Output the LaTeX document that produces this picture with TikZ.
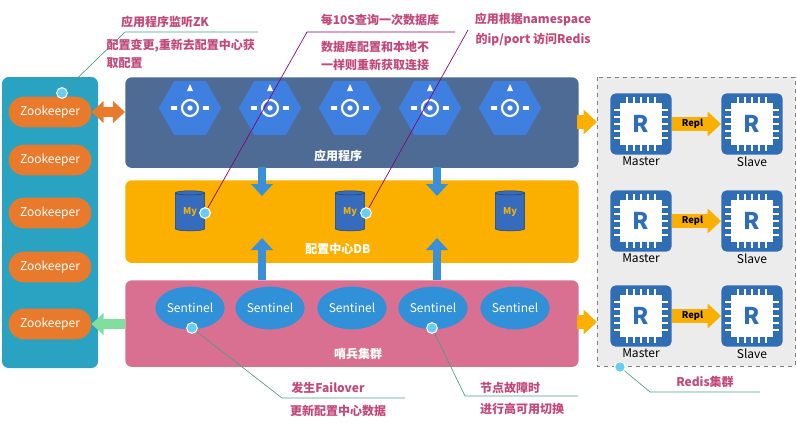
\documentclass[tikz,border=0pt]{standalone}
\usepackage{fontspec}
\setmainfont{Noto Sans CJK SC}
\usetikzlibrary{arrows.meta,shapes,positioning,calc}
\definecolor{zkpanel}{HTML}{2AA3C2}
\definecolor{zkorange}{HTML}{E97A2C}
\definecolor{appband}{HTML}{4E6B95}
\definecolor{dbband}{HTML}{FBB000}
\definecolor{sentband}{HTML}{DA7091}
\definecolor{hexblue}{HTML}{3E7FE0}
\definecolor{sentblue}{HTML}{3090D8}
\definecolor{redisblue}{HTML}{2F6DB5}
\definecolor{notecol}{HTML}{C2487A}
\definecolor{linecol}{HTML}{4E9A8A}
\definecolor{pipeblue}{HTML}{3A8FD9}
\tikzset{
  band/.style={rounded corners=5pt, draw=none, minimum width=340pt, anchor=north west},
  zk/.style={rounded rectangle, fill=zkorange, text=white, minimum width=66pt, minimum height=23pt, inner xsep=2pt, font=\small},
  sentinel/.style={ellipse, fill=sentblue, text=white, minimum width=48pt, minimum height=32pt, inner sep=1pt, font=\small},
  hexa/.style={regular polygon, regular polygon sides=6, fill=hexblue, minimum size=47pt, inner sep=0pt},
  redis/.style={rounded corners=4pt, fill=redisblue, minimum size=46pt, inner sep=0pt},
  note/.style={text=notecol, font=\small\bfseries, inner sep=1pt},
  dot/.style={circle, fill=cyan!60, draw=white, line width=0.8pt, minimum size=8pt, inner sep=0pt},
  callout/.style={linecol, line width=0.5pt},
  pipe/.style={-{Triangle[width=16pt,length=9pt]}, line width=6pt, pipeblue},
  fat/.style={-{Triangle[width=18pt,length=10pt]}, line width=11pt},
}
\begin{document}
\begin{tikzpicture}[x=0.75pt, y=-0.75pt]
    \useasboundingbox (0,0) rectangle (797,426);
    % Zookeeper column
    \fill[zkpanel, rounded corners=5pt] (2,77) rectangle (98,368);
    \foreach \i/\y in {1/112, 2/160, 3/213, 4/267, 5/324} {
        \node[zk] (zk\i) at (50,\y) {Zookeeper};
    }
    
    % Bands
    \node[band, fill=appband, minimum height=68pt] (app) at (125,77) {};
    \node[band, fill=dbband, minimum height=62pt] (db) at (125,180) {};
    \node[band, fill=sentband, minimum height=65pt] (sent) at (125,280) {};
    \node[text=white, font=\small\bfseries] at (338,156) {应用程序};
    \node[text=white, font=\small\bfseries] at (338,249) {配置中心DB};
    \node[text=white, font=\small\bfseries] at (358,354) {哨兵集群};
    
    % Application hexagons
    \foreach \i/\x in {1/190, 2/270, 3/350, 4/430, 5/510} {
        \node[hexa] (hex\i) at (\x,108) {};
        \draw[white, line width=1.6pt] (hex\i) circle (6pt);
        \fill[white] (hex\i) circle (2pt);
        \fill[white] ($(hex\i)+(-3,-17)$) -- ($(hex\i)+(3,-17)$) -- ($(hex\i)+(0,-24)$) -- cycle;
        \fill[white] ($(hex\i)+(-19,-2)$) rectangle ($(hex\i)+(-13,2)$);
        \fill[white] ($(hex\i)+(13,-2)$) rectangle ($(hex\i)+(19,2)$);
    }
    
    % Config DB cylinders
    \foreach \i/\x in {1/190, 2/350, 3/510} {
        \node[cylinder, shape border rotate=90, aspect=0.3, fill=hexblue!85!black, draw=hexblue!50!black,
              minimum width=22pt, minimum height=30pt, text=dbband, font=\scriptsize\bfseries, inner sep=0pt] (cyl\i) at (\x,212) {My};
    }
    
    % Sentinels
    \foreach \i/\x in {1/190, 2/270, 3/352, 4/433, 5/515} {
        \node[sentinel] (sen\i) at (\x,308) {Sentinel};
    }
    
    % Redis cluster
    \fill[gray!15] (597,77) rectangle (795,366);
    \draw[gray, dashed] (597,77) rectangle (795,366);
    \foreach \r/\y in {1/124, 2/221, 3/316} {
        \foreach \n/\x/\lab in {m/641/Master, s/752/Slave} {
            \node[redis] (\n\r) at (\x,\y) {};
            \foreach \k in {-14,-7,0,7,14} {
                \draw[white, line width=1.7pt] ($(\n\r)+(\k,-27)$) -- ($(\n\r)+(\k,27)$);
                \draw[white, line width=1.7pt] ($(\n\r)+(-27,\k)$) -- ($(\n\r)+(27,\k)$);
            }
            \node[fill=white, minimum size=32pt, inner sep=0pt, text=redisblue, font=\LARGE\bfseries] at (\n\r) {R};
            \node[font=\small, below=-2pt of \n\r] {\lab};
        }
        \draw[fat, dbband] (m\r.east) -- (s\r.west) node[midway, text=black, font=\scriptsize\bfseries, xshift=-3pt] {Repl};
    }
    
    % Connectors between layers
    \draw[{Triangle[width=16pt,length=9pt]}-{Triangle[width=16pt,length=9pt]}, line width=7pt, zkorange]
        (zk1.east) -- (app.west |- zk1) coordinate (appin);
    \draw[{Triangle[width=16pt,length=9pt]}-, line width=7pt, green!50!teal!50]
        (zk5.east) -- (sent.west |- zk5);
    \foreach \x in {262, 437} {
        \draw[pipe] (\x,167) -- (\x,196);
        \draw[pipe] (\x,280) -- (\x,238);
    }
    \draw[fat, dbband] (577,122) -- (597,122);
    \draw[fat, dbband] (577,322) -- (597,322);
    
    % Callouts
    \node[dot] (d1) at (62,93) {};
    \draw[callout] (d1) -- (125,32) -- (258,32);
    \node[note] at (165,22) {应用程序监听ZK};
    \node[note, anchor=west] at (105,46) {配置变更,重新去配置中心获};
    \node[note, anchor=west] at (105,63) {取配置};
    
    \node[dot] (d2) at (205,213) {};
    \draw[callout, violet] (d2) -- (307,32) -- (455,32);
    \node[note] at (380,20) {每10S查询一次数据库};
    \node[note] at (375,47) {数据库配置和本地不};
    \node[note] at (375,65) {一样则重新获取连接};
    
    \node[dot] (d3) at (366,213) {};
    \draw[callout, violet] (d3) -- (468,30);
    \node[note] at (533,20) {应用根据namespace};
    \node[note] at (533,40) {的ip/port 访问Redis};
    
    \node[dot] (d4) at (192,328) {};
    \draw[callout] (d4) -- (282,398) -- (405,398);
    \node[note] at (328,388) {发生Failover};
    \node[note] at (338,411) {更新配置中心数据};
    
    \node[dot] (d5) at (432,328) {};
    \draw[callout] (d5) -- (465,396) -- (578,396);
    \node[note] at (510,388) {节点故障时};
    \node[note] at (522,409) {进行高可用切换};
    
    \node[dot] (d6) at (620,367) {};
    \draw[callout] (d6) -- (650,392) -- (760,392);
    \node[note] at (705,382) {Redis集群};
\end{tikzpicture}
\end{document}
